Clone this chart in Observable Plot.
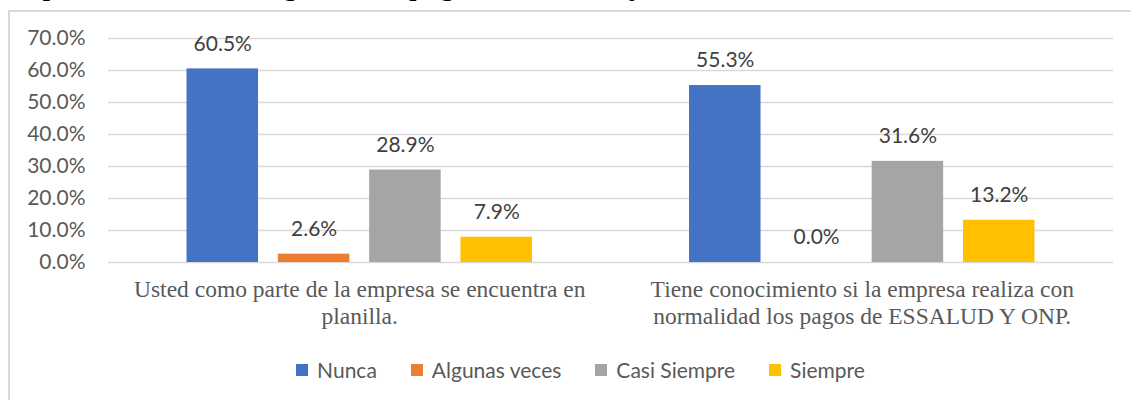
<!DOCTYPE html>
<html>
<head>
<meta charset="utf-8">
<script src="https://cdn.jsdelivr.net/npm/d3@7"></script>
<script src="https://cdn.jsdelivr.net/npm/@observablehq/plot@0.6"></script>
<style>
  html, body { margin: 0; padding: 0; background: #fff; }
  #wrap { position: relative; width: 1131px; height: 400px; overflow: hidden; }
  #frame { position: absolute; left: 8px; top: 10px; width: 1140px; height: 420px; border: 2px solid #d9d9d9; box-sizing: border-box; }
  #title { position: absolute; left: 0px; top: -32px; line-height: 31px; font-family: "Liberation Serif", serif; font-style: italic; font-size: 31px; color: #000; white-space: nowrap; }
  #legend { position: absolute; left: 0; top: 356px; width: 1161px; display: flex; justify-content: center; gap: 34px; font-family: Lato, sans-serif; font-size: 21px; color: #595959; line-height: 28px; }
  #legend .item { display: flex; align-items: center; gap: 9px; }
  #legend .sw { width: 12px; height: 12px; display: inline-block; }
  #chart { position: absolute; left: 0; top: 0; }
</style>
</head>
<body>
<div id="wrap">
  <div id="frame"></div>
  <div id="title">Respuesta a las interrogantes de pago de sus trabajadores</div>
  <div id="chart"></div>
  <div id="legend"></div>
</div>
<script>
const categories = [
  "Usted como parte de la empresa se encuentra en planilla.",
  "Tiene conocimiento si la empresa realiza con normalidad los pagos de ESSALUD Y ONP."
];
const tickLabels = [
  "Usted como parte de la empresa se encuentra en\nplanilla.",
  "Tiene conocimiento si la empresa realiza con\nnormalidad los pagos de ESSALUD Y ONP."
];
const series = ["Nunca", "Algunas veces", "Casi Siempre", "Siempre"];
const colors = ["#4472C4", "#ED7D31", "#A5A5A5", "#FFC000"];
const nunca = [0.605, 0.553];
const algunasVeces = [0.026, 0.0];
const casiSiempre = [0.289, 0.316];
const siempre = [0.079, 0.132];
const yTicks = [0, 0.1, 0.2, 0.3, 0.4, 0.5, 0.6, 0.7];

const seriesValues = [nunca, algunasVeces, casiSiempre, siempre];
const data = [];
categories.forEach((c, i) => {
  series.forEach((s, j) => data.push({category: c, serie: s, value: seriesValues[j][i]}));
});

const chart = Plot.plot({
  width: 1131,
  height: 400,
  marginLeft: 108,
  marginRight: 18,
  marginTop: 38,
  marginBottom: 138,
  style: {background: "transparent", overflow: "visible"},
  fx: {domain: categories, padding: 0, label: null, round: false},
  x: {domain: series, paddingInner: 0.217, paddingOuter: 0.86, axis: null, round: false},
  y: {domain: [0, 0.7], label: null},
  color: {domain: series, range: colors},
  marks: [
    Plot.ruleY(yTicks, {stroke: "#d9d9d9", strokeWidth: 1.5}),
    Plot.axisY({ticks: yTicks, tickFormat: d3.format(".1%"), tickSize: 0, tickPadding: 23, label: null,
      fontSize: 21, fill: "#595959", fontFamily: "Lato, sans-serif"}),
    Plot.axisFx({anchor: "bottom", tickSize: 0, tickPadding: 16, label: null,
      tickFormat: (d) => tickLabels[categories.indexOf(d)],
      fontSize: 23.5, fill: "#595959", fontFamily: "Liberation Serif, serif", lineHeight: 1.13}),
    Plot.barY(data, {fx: "category", x: "serie", y: "value", fill: "serie"}),
    Plot.text(data, {fx: "category", x: "serie", y: "value", text: (d) => d3.format(".1%")(d.value),
      dy: -25, fontSize: 21, fill: "#404040", fontFamily: "Lato, sans-serif"})
  ]
});
document.getElementById("chart").appendChild(chart);

const legend = document.getElementById("legend");
series.forEach((s, i) => {
  const item = document.createElement("div");
  item.className = "item";
  const sw = document.createElement("span");
  sw.className = "sw";
  sw.style.background = colors[i];
  const t = document.createElement("span");
  t.textContent = s;
  item.appendChild(sw);
  item.appendChild(t);
  legend.appendChild(item);
});
</script>
</body>
</html>
